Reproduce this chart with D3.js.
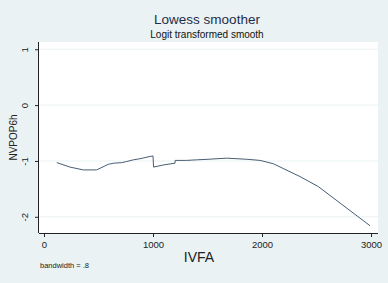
<!DOCTYPE html>
<html>
<head>
<meta charset="utf-8">
<script src="https://cdn.jsdelivr.net/npm/d3@7"></script>
<style>
  body { margin: 0; background: #eaf2f3; }
  svg { display: block; font-family: Arial, "Liberation Sans", sans-serif; }
</style>
</head>
<body>
<div id="chart"></div>
<script>
// lowess fit
const ivfa = [117, 239, 361, 483, 590, 640, 713, 760, 819, 880, 972, 1000, 1005, 1100, 1202, 1203, 1309, 1400, 1505, 1676, 1860, 1982, 2104, 2349, 2517, 2991]
const nvpop = [-1.03, -1.11, -1.16, -1.16, -1.06, -1.04, -1.03, -1.01, -0.98, -0.96, -0.92, -0.91, -1.11, -1.07, -1.04, -0.99, -0.99, -0.98, -0.97, -0.95, -0.97, -0.99, -1.05, -1.28, -1.46, -2.16]
const xTicks = [0, 1000, 2000, 3000]
const yTicks = [1, 0, -1, -2]

const width = 388
const height = 283
const margin = { top: 42, right: 10, bottom: 50, left: 39 }

const svg = d3.select('#chart').append('svg')
  .attr('width', width)
  .attr('height', height)

svg.append('rect')
  .attr('width', width).attr('height', height)
  .attr('fill', '#eaf2f3')

const x = d3.scaleLinear()
  .domain([-46, 3064])
  .range([margin.left, width - margin.right])

const y = d3.scaleLinear()
  .domain([-2.29, 1.13])
  .range([height - margin.bottom, margin.top])

// plot region
svg.append('rect')
  .attr('x', margin.left).attr('y', margin.top)
  .attr('width', width - margin.left - margin.right)
  .attr('height', height - margin.top - margin.bottom)
  .attr('fill', '#ffffff')

// gridlines
svg.append('g').selectAll('line')
  .data(yTicks)
  .enter().append('line')
  .attr('x1', margin.left).attr('x2', width - margin.right)
  .attr('y1', d => y(d)).attr('y2', d => y(d))
  .attr('stroke', '#eaf2f3')
  .attr('stroke-width', 1)

// axes
const yAxis = svg.append('g')
  .attr('transform', 'translate(' + margin.left + ',0)')
  .call(d3.axisLeft(y).tickValues(yTicks).tickSize(4).tickFormat(d => d3.format('d')(d).replace('−', '-')))
const xAxis = svg.append('g')
  .attr('transform', 'translate(0,' + (height - margin.bottom) + ')')
  .call(d3.axisBottom(x).tickValues(xTicks).tickSize(4).tickFormat(d3.format('d')))

;[xAxis, yAxis].forEach(ax => {
  ax.select('.domain').attr('stroke', '#222').attr('stroke-width', 1)
  ax.selectAll('.tick line').attr('stroke', '#222')
  ax.selectAll('.tick text').attr('fill', '#222').style('font-size', '9.5px').style('font-family', 'Arial, "Liberation Sans", sans-serif')
})
xAxis.select('.domain').attr('d', 'M' + margin.left + ',0.5H' + (width - margin.right))
yAxis.select('.domain').attr('d', 'M-0.5,' + margin.top + 'V' + (height - margin.bottom))
xAxis.selectAll('.tick text').attr('y', 8)
yAxis.selectAll('.tick text')
  .attr('x', null).attr('dy', null)
  .attr('text-anchor', 'middle')
  .attr('transform', 'translate(-11,0) rotate(-90)')

// the smooth
const line = d3.line()
  .x(d => x(d[0]))
  .y(d => y(d[1]))

svg.append('path')
  .datum(d3.zip(ivfa, nvpop))
  .attr('d', line)
  .attr('fill', 'none')
  .attr('stroke', '#4a5d72')
  .attr('stroke-width', 1)

// titles
svg.append('text')
  .attr('x', 207).attr('y', 24)
  .attr('text-anchor', 'middle')
  .attr('fill', '#1f2d4a')
  .style('font-size', '13.5px')
  .text('Lowess smoother')

svg.append('text')
  .attr('x', 207).attr('y', 38)
  .attr('text-anchor', 'middle')
  .attr('fill', '#111')
  .style('font-size', '10px')
  .text('Logit transformed smooth')

svg.append('text')
  .attr('transform', 'translate(17,' + ((margin.top + height - margin.bottom) / 2) + ') rotate(-90)')
  .attr('text-anchor', 'middle')
  .attr('fill', '#222')
  .style('font-size', '10px')
  .text('NVPOP6h')

svg.append('text')
  .attr('x', 199).attr('y', 262)
  .attr('text-anchor', 'middle')
  .attr('fill', '#222')
  .style('font-size', '14px')
  .text('IVFA')

svg.append('text')
  .attr('x', 40).attr('y', 268)
  .attr('fill', '#222')
  .style('font-size', '7.5px')
  .text('bandwidth = .8')
</script>
</body>
</html>
